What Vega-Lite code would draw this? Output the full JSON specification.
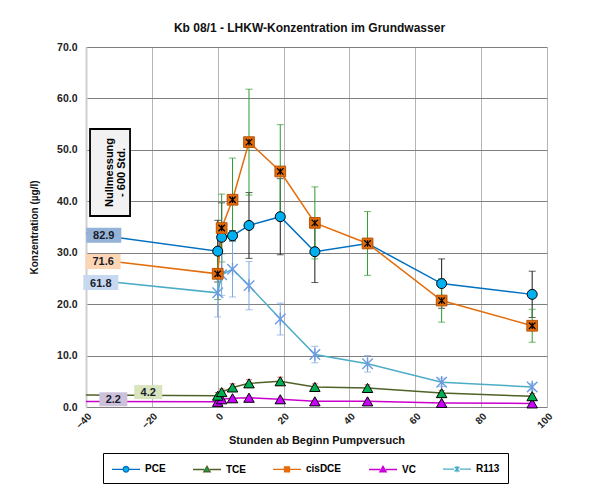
{
  "$schema": "https://vega.github.io/schema/vega-lite/v6.json",
  "width": 461,
  "height": 360,
  "autosize": "none",
  "padding": {"left": 86, "top": 47, "right": 47, "bottom": 79},
  "background": "white",
  "title": {"text": "Kb 08/1 - LHKW-Konzentration im Grundwasser", "fontSize": 12, "fontWeight": "bold", "font": "Liberation Sans", "color": "#111111", "offset": 7, "anchor": "middle", "dx": -7},
  "config": {
    "font": "Liberation Sans",
    "view": {"stroke": null}
  },
  "datasets": {
    "messwerte": [
      {"series": "PCE", "t": -600, "v": 82.9},
      {"series": "PCE", "t": 0, "v": 30.3, "e": 6.0},
      {"series": "PCE", "t": 1.2, "v": 33.0, "e": 6.7},
      {"series": "PCE", "t": 4.5, "v": 33.3, "e": 1.0},
      {"series": "PCE", "t": 9.5, "v": 35.3, "e": 6.4},
      {"series": "PCE", "t": 19, "v": 37.0, "e": 7.4},
      {"series": "PCE", "t": 29.5, "v": 30.2, "e": 6.0},
      {"series": "PCE", "t": 45.5, "v": 31.8},
      {"series": "PCE", "t": 68, "v": 24.0, "e": 4.8},
      {"series": "PCE", "t": 95.5, "v": 21.9, "e": 4.5},
      {"series": "TCE", "t": -600, "v": 4.2},
      {"series": "TCE", "t": 0, "v": 2.2, "e": 0.6},
      {"series": "TCE", "t": 1.2, "v": 2.9, "e": 0.6},
      {"series": "TCE", "t": 4.5, "v": 3.8, "e": 0.7},
      {"series": "TCE", "t": 9.5, "v": 4.6, "e": 0.7},
      {"series": "TCE", "t": 19, "v": 5.0, "e": 0.8},
      {"series": "TCE", "t": 29.5, "v": 3.9, "e": 0.6},
      {"series": "TCE", "t": 45.5, "v": 3.7, "e": 0.6},
      {"series": "TCE", "t": 68, "v": 2.7, "e": 0.5},
      {"series": "TCE", "t": 95.5, "v": 2.1, "e": 0.5},
      {"series": "cisDCE", "t": -600, "v": 71.6},
      {"series": "cisDCE", "t": 0, "v": 25.9, "e": 5.0},
      {"series": "cisDCE", "t": 1.2, "v": 34.8, "e": 6.6},
      {"series": "cisDCE", "t": 4.5, "v": 40.3, "e": 8.1},
      {"series": "cisDCE", "t": 9.5, "v": 51.5, "e": 10.3},
      {"series": "cisDCE", "t": 19, "v": 45.8, "e": 9.1},
      {"series": "cisDCE", "t": 29.5, "v": 35.8, "e": 7.0},
      {"series": "cisDCE", "t": 45.5, "v": 31.8, "e": 6.2},
      {"series": "cisDCE", "t": 68, "v": 20.7, "e": 4.2},
      {"series": "cisDCE", "t": 95.5, "v": 15.8, "e": 3.2},
      {"series": "VC", "t": -600, "v": 2.2},
      {"series": "VC", "t": 0, "v": 1.0},
      {"series": "VC", "t": 1.2, "v": 1.5},
      {"series": "VC", "t": 4.5, "v": 1.7},
      {"series": "VC", "t": 9.5, "v": 1.8},
      {"series": "VC", "t": 19, "v": 1.5},
      {"series": "VC", "t": 29.5, "v": 1.1},
      {"series": "VC", "t": 45.5, "v": 1.1},
      {"series": "VC", "t": 68, "v": 0.8},
      {"series": "VC", "t": 95.5, "v": 0.7},
      {"series": "R113", "t": -600, "v": 61.8},
      {"series": "R113", "t": 0, "v": 22.2, "e": 4.7},
      {"series": "R113", "t": 1.2, "v": 25.7, "e": 4.0},
      {"series": "R113", "t": 4.5, "v": 26.8, "e": 5.4},
      {"series": "R113", "t": 9.5, "v": 23.6, "e": 4.7},
      {"series": "R113", "t": 19, "v": 17.1, "e": 3.1},
      {"series": "R113", "t": 29.5, "v": 10.2, "e": 1.6},
      {"series": "R113", "t": 45.5, "v": 8.4, "e": 1.6},
      {"series": "R113", "t": 68, "v": 4.8, "e": 0.8},
      {"series": "R113", "t": 95.5, "v": 3.9, "e": 0.6}
    ],
    "nulllabels": [
      {"series": "PCE", "lx": -34.6, "ly": 33.4, "label": "82.9"},
      {"series": "cisDCE", "lx": -34.8, "ly": 28.3, "label": "71.6"},
      {"series": "R113", "lx": -35.5, "ly": 24.2, "label": "61.8"},
      {"series": "TCE", "lx": -21.1, "ly": 2.9, "label": "4.2"},
      {"series": "VC", "lx": -31.7, "ly": 1.5, "label": "2.2"}
    ],
    "notiz": [
      {"lx": -32.7, "ly": 45.6}
    ]
  },
  "data": {"name": "messwerte"},
  "encoding": {
    "x": {"field": "t", "type": "quantitative",
      "scale": {"domain": [-40, 100], "nice": false, "zero": false},
      "axis": {"title": "Stunden ab Beginn Pumpversuch", "values": [-40, -20, 0, 20, 40, 60, 80, 100], "format": "d", "labelAngle": -45, "labelFontWeight": "bold", "labelFontSize": 10, "labelColor": "#222222", "ticks": false, "domain": false, "gridColor": "#b5b5b5", "titleFontSize": 11, "titleFontWeight": "bold", "titleColor": "#111111", "titlePadding": 4, "labelPadding": 4}},
    "y": {"field": "v", "type": "quantitative",
      "scale": {"domain": [0, 70], "nice": false},
      "axis": {"title": "Konzentration (µg/l)", "values": [0, 10, 20, 30, 40, 50, 60, 70], "format": ".1f", "labelFontWeight": "bold", "labelFontSize": 10.5, "labelColor": "#222222", "ticks": false, "domainColor": "#d0d0d0", "domainWidth": 2, "gridColor": "#7f7f7f", "labelPadding": 9, "titleFontSize": 10, "titleFontWeight": "bold", "titleColor": "#111111", "titlePadding": 17}}
  },
  "resolve": {"scale": {"color": "independent"}},
  "layer": [
    {"transform": [{"filter": "datum.series == 'PCE' && isValid(datum.e) && datum.t >= -40"}],
     "mark": {"type": "errorbar", "ticks": true, "color": "#1a1a1a", "size": 7, "thickness": 1},
     "encoding": {"yError": {"field": "e"}}},
    {"transform": [{"filter": "datum.series == 'cisDCE' && isValid(datum.e) && datum.t >= -40"}],
     "mark": {"type": "errorbar", "ticks": true, "color": "#2e9a2e", "size": 7, "thickness": 1},
     "encoding": {"yError": {"field": "e"}}},
    {"transform": [{"filter": "datum.series == 'R113' && isValid(datum.e) && datum.t >= -40"}],
     "mark": {"type": "errorbar", "ticks": true, "color": "#7aa7e0", "size": 7, "thickness": 1},
     "encoding": {"yError": {"field": "e"}}},
    {"transform": [{"filter": "datum.series == 'TCE' && isValid(datum.e) && datum.t >= -40"}],
     "mark": {"type": "errorbar", "ticks": true, "color": "#d03030", "size": 6, "thickness": 1},
     "encoding": {"yError": {"field": "e"}}},
    {"mark": {"type": "line", "clip": true, "strokeWidth": 1.5},
     "encoding": {
       "color": {"field": "series", "type": "nominal", "legend": null,
         "scale": {"domain": ["PCE", "TCE", "cisDCE", "VC", "R113"], "range": ["#0070c0", "#4f6228", "#e46c0a", "#cc00cc", "#4bacc6"]}},
       "order": {"field": "t"}
     }},
    {"transform": [{"filter": "datum.series == 'R113' && datum.t >= -40"}],
     "mark": {"type": "point", "filled": false, "shape": "M-1,-1L1,1M-1,1L1,-1M0,-1.2V1.2", "size": 110, "stroke": "#6b9be0", "strokeWidth": 1.4, "opacity": 1}},
    {"transform": [{"filter": "datum.series == 'VC' && datum.t >= -40"}],
     "mark": {"type": "point", "filled": true, "shape": "triangle-up", "size": 110, "fill": "#cc00ff", "stroke": "#000000", "strokeWidth": 1, "opacity": 1}},
    {"transform": [{"filter": "datum.series == 'TCE' && datum.t >= -40"}],
     "mark": {"type": "point", "filled": true, "shape": "triangle-up", "size": 110, "fill": "#00b050", "stroke": "#000000", "strokeWidth": 1, "opacity": 1}},
    {"transform": [{"filter": "datum.series == 'PCE' && datum.t >= -40"}],
     "mark": {"type": "point", "filled": true, "shape": "circle", "size": 100, "fill": "#00b0f0", "stroke": "#000000", "strokeWidth": 1, "opacity": 1}},
    {"transform": [{"filter": "datum.series == 'cisDCE' && datum.t >= -40"}],
     "mark": {"type": "point", "filled": true, "shape": "square", "size": 115, "fill": "#e46c0a", "stroke": "#b85508", "strokeWidth": 1, "opacity": 1}},
    {"transform": [{"filter": "datum.series == 'cisDCE' && datum.t >= -40"}],
     "mark": {"type": "point", "filled": false, "shape": "M-1,-1L1,1M-1,1L1,-1M0,-1V1", "size": 42, "stroke": "#000000", "strokeWidth": 1.2, "opacity": 1}},
    {"transform": [{"filter": "datum.t == -600"}],
     "mark": {"type": "point", "filled": true, "clip": true, "opacity": 1, "strokeWidth": 1.3},
     "encoding": {
       "fill": {"field": "series", "type": "nominal",
         "scale": {"domain": ["PCE", "TCE", "cisDCE", "VC", "R113"], "range": ["#00b0f0", "#00b050", "#e46c0a", "#cc00ff", "#8db4e2"]},
         "legend": {"title": null, "orient": "none", "legendX": 17, "legendY": 406, "direction": "horizontal", "columns": 5, "padding": 8, "columnPadding": 24, "strokeColor": "#000000", "fillColor": "#ffffff", "symbolSize": 196, "symbolOffset": 7, "symbolStrokeWidth": 1.3, "labelFont": "Liberation Sans", "labelFontSize": 10, "labelFontWeight": "bold", "labelColor": "#000000", "labelOffset": 11, "symbolOpacity": 1}},
       "stroke": {"field": "series", "type": "nominal",
         "scale": {"domain": ["PCE", "TCE", "cisDCE", "VC", "R113"], "range": ["#0070c0", "#4f6228", "#e46c0a", "#cc00cc", "#4bacc6"]},
         "legend": {"title": null, "orient": "none", "legendX": 17, "legendY": 406, "direction": "horizontal", "columns": 5, "padding": 8, "columnPadding": 24, "strokeColor": "#000000", "fillColor": "#ffffff", "symbolSize": 196, "symbolOffset": 7, "symbolStrokeWidth": 1.3, "labelFont": "Liberation Sans", "labelFontSize": 10, "labelFontWeight": "bold", "labelColor": "#000000", "labelOffset": 11, "symbolOpacity": 1}},
       "shape": {"field": "series", "type": "nominal",
         "scale": {"domain": ["PCE", "TCE", "cisDCE", "VC", "R113"], "range": [
           "M-2,0H-0.4M0.4,0H2M-0.4,0A0.4,0.4 0 1 0 0.4,0A0.4,0.4 0 1 0 -0.4,0Z",
           "M-2,0H-0.4M0.4,0H2M0,-0.45L0.45,0.32L-0.45,0.32Z",
           "M-2,0H-0.36M0.36,0H2M-0.36,-0.36H0.36V0.36H-0.36Z",
           "M-2,0H-0.4M0.4,0H2M0,-0.45L0.45,0.32L-0.45,0.32Z",
           "M-2,0H-0.4M0.4,0H2M-0.34,-0.34L0.34,0.34M-0.34,0.34L0.34,-0.34M0,-0.45V0.45"]},
         "legend": {"title": null, "orient": "none", "legendX": 17, "legendY": 406, "direction": "horizontal", "columns": 5, "padding": 8, "columnPadding": 24, "strokeColor": "#000000", "fillColor": "#ffffff", "symbolSize": 196, "symbolOffset": 7, "symbolStrokeWidth": 1.3, "labelFont": "Liberation Sans", "labelFontSize": 10, "labelFontWeight": "bold", "labelColor": "#000000", "labelOffset": 11, "symbolOpacity": 1}}
     }},
    {"data": {"name": "nulllabels"},
     "mark": {"type": "point", "filled": true, "opacity": 1, "strokeWidth": 0},
     "encoding": {
       "x": {"field": "lx", "type": "quantitative", "title": "Stunden ab Beginn Pumpversuch"},
       "y": {"field": "ly", "type": "quantitative", "title": "Konzentration (µg/l)"},
       "shape": {"condition": {"test": "length(datum.label) > 3", "value": "M-1,-0.43H1V0.43H-1Z"}, "value": "M-1,-0.5H1V0.5H-1Z"},
       "size": {"condition": {"test": "length(datum.label) > 3", "value": 1225}, "value": 784},
       "color": {"field": "series", "type": "nominal", "legend": null,
         "scale": {"domain": ["PCE", "TCE", "cisDCE", "VC", "R113"], "range": ["#95b3d7", "#d7e4bd", "#fcd5b5", "#ccc0da", "#c6d9f1"]}}
     }},
    {"data": {"name": "nulllabels"},
     "mark": {"type": "text", "fontSize": 11, "fontWeight": "bold", "color": "#1a1a2a", "align": "center", "baseline": "middle", "dy": 1},
     "encoding": {
       "x": {"field": "lx", "type": "quantitative", "title": "Stunden ab Beginn Pumpversuch"},
       "y": {"field": "ly", "type": "quantitative", "title": "Konzentration (µg/l)"},
       "text": {"field": "label"}
     }},
    {"data": {"name": "notiz"},
     "mark": {"type": "point", "filled": true, "shape": "M-0.46,-1H0.46V1H-0.46Z", "size": 7569, "fill": "#f2f2f2", "stroke": "#000000", "strokeWidth": 1.8, "opacity": 1},
     "encoding": {
       "x": {"field": "lx", "type": "quantitative", "title": "Stunden ab Beginn Pumpversuch"},
       "y": {"field": "ly", "type": "quantitative", "title": "Konzentration (µg/l)"}
     }},
    {"data": {"name": "notiz"},
     "mark": {"type": "text", "text": ["Nullmessung", "- 600 Std."], "angle": 270, "fontSize": 11, "fontWeight": "bold", "color": "#000000", "align": "center", "baseline": "middle", "lineHeight": 12},
     "encoding": {
       "x": {"field": "lx", "type": "quantitative", "title": "Stunden ab Beginn Pumpversuch"},
       "y": {"field": "ly", "type": "quantitative", "title": "Konzentration (µg/l)"}
     }}
  ]
}
